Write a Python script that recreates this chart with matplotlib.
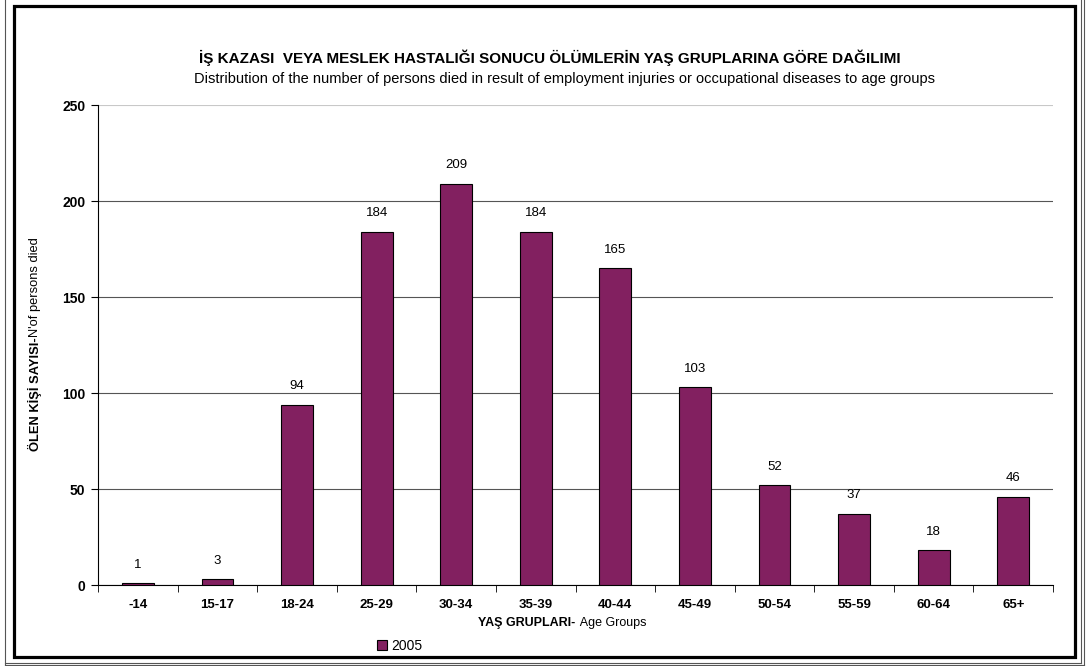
import numpy as np
import matplotlib.pyplot as plt
from matplotlib.lines import Line2D
from matplotlib.patches import Rectangle

plt.rcParams['font.family'] = ['Liberation Sans', 'DejaVu Sans']

groups = ['-14', '15-17', '18-24', '25-29', '30-34', '35-39',
          '40-44', '45-49', '50-54', '55-59', '60-64', '65+']
deaths = [1, 3, 94, 184, 209, 184, 165, 103, 52, 37, 18, 46]
yticks = [0, 50, 100, 150, 200, 250]

W, H = 1087, 666
fig = plt.figure(figsize=(W / 100, H / 100), dpi=100)
ax = fig.add_axes([0.0902, 0.1216, 0.8786, 0.7207])

x = np.arange(len(groups))
bars = ax.bar(x, deaths, width=0.4, color='#822060', edgecolor='black',
              linewidth=0.8, zorder=3, label='2005')
for xi, v in zip(x, deaths):
    ax.text(xi, v + 6.5, str(v), ha='center', va='bottom', fontsize=9.5)

ax.set_xlim(-0.5, len(groups) - 0.5)
ax.set_ylim(0, 250)
ax.set_yticks(yticks)
ax.set_yticklabels([str(t) for t in yticks], fontsize=10, fontweight='bold')
ax.set_xticks(x)
ax.set_xticklabels(groups, fontsize=9.5, fontweight='bold')
ax.tick_params(axis='x', which='major', length=0, pad=10)
ax.set_xticks(np.arange(len(groups) + 1) - 0.5, minor=True)
ax.tick_params(axis='x', which='minor', length=5, direction='out')
ax.tick_params(axis='y', length=5, direction='out', pad=4)
ax.grid(axis='y', color='#555555', linewidth=0.8, zorder=0)
ax.yaxis.get_gridlines()[-1].set_color('#c8c8c8')
for s in ['top', 'right']:
    ax.spines[s].set_visible(False)

# titles
fig.text(550 / W, 1 - 58 / H, 'İŞ KAZASI  VEYA MESLEK HASTALIĞI SONUCU ÖLÜMLERİN YAŞ GRUPLARINA GÖRE DAĞILIMI',
         ha='center', va='center', fontsize=11, fontweight='bold')
fig.text(564 / W, 1 - 79 / H, 'Distribution of the number of persons died in result of employment injuries or occupational diseases to age groups',
         ha='center', va='center', fontsize=10.5)

# axis labels (bold + regular parts)
fig.text(575 / W, 1 - 623 / H, 'YAŞ GRUPLARI-', ha='right', va='center',
         fontsize=9, fontweight='bold')
fig.text(577 / W, 1 - 623 / H, ' Age Groups', ha='left', va='center', fontsize=9)
fig.text(35 / W, 1 - 337 / H, 'ÖLEN KİŞİ SAYISI-', ha='center', va='top',
         rotation=90, fontsize=9.3, fontweight='bold')
fig.text(35 / W, 1 - 337 / H, "N'of persons died", ha='center', va='bottom',
         rotation=90, fontsize=9.3)

fig.legend(handles=[bars], loc='center', bbox_to_anchor=(400 / W, 1 - 646 / H),
           frameon=False, fontsize=10, handlelength=0.7, handleheight=0.7,
           handletextpad=0.3)

# frame: thick black box plus thin outer lines
fig.patches.append(Rectangle((13.5 / W, 1 - 657 / H), 1061.5 / W, 651.5 / H,
                             transform=fig.transFigure, fill=False,
                             edgecolor='black', linewidth=2.3))
thin = dict(transform=fig.transFigure, color='#555555', linewidth=0.8)
fig.lines.append(Line2D([4.5 / W, 4.5 / W], [0, 1], **thin))
fig.lines.append(Line2D([1080.5 / W, 1080.5 / W], [1 - 662.5 / H, 1], **thin))
fig.lines.append(Line2D([1083.5 / W, 1083.5 / W], [1 - 665 / H, 1], **thin))
fig.lines.append(Line2D([4.5 / W, 1080.5 / W], [1 - 662.5 / H, 1 - 662.5 / H], **thin))
fig.lines.append(Line2D([4.5 / W, 1083.5 / W], [1 - 665 / H, 1 - 665 / H], **thin))

fig.savefig('out.png', dpi=100)
